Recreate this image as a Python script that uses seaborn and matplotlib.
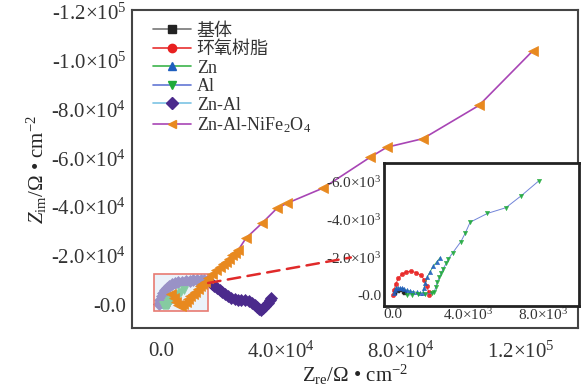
import matplotlib
matplotlib.use("Agg")
import matplotlib.pyplot as plt
import seaborn as sns
from matplotlib.lines import Line2D
from matplotlib.patches import Rectangle, ConnectionPatch

# impedance data, Ohm*cm2 (x = Z_re, y = -Z_im)
substrate_x = [110, 280, 460, 590, 640]
substrate_y = [90, 230, 260, 180, 90]

epoxy_x = [20, 50, 140, 280, 460, 690, 940, 1230, 1490, 1670, 1800, 1890, 1940]
epoxy_y = [0, 260, 580, 880, 1090, 1210, 1260, 1190, 1040, 790, 470, 180, 0]

zn_x = [70, 110, 160, 250, 350, 460, 580, 730, 900, 1080, 1260, 1440, 1580,
        1650, 1720, 1830, 1970, 2150, 2330, 2510]
zn_y = [90, 260, 400, 380, 360, 350, 310, 260, 220, 180, 140, 90, 120,
        350, 650, 960, 1230, 1530, 1750, 1980]

al_x = [730, 1000, 1350, 1710, 2060, 2200, 2280, 2360, 2470, 2560, 2680, 2830,
        2950, 3180, 3610, 3840, 4110, 5030, 6010, 6830, 7750]
al_y = [0, 20, 40, 50, 90, 180, 440, 700, 930, 1140, 1400, 1670,
        1910, 2230, 2810, 3250, 3840, 4300, 4600, 5230, 6000]

znal_x = [-500, -200, 200, 700, 1300, 2000, 2800, 3700, 4700, 5800, 7000, 8200,
          9500, 10800, 12000, 13200, 14300, 15300, 16200, 17000, 17800, 18600,
          19500, 20300, 21200, 22200, 23300, 24500, 25700, 26800, 28000, 29200,
          30300, 31200, 32000, 32700, 33300, 34000, 34700, 35500, 36200, 36800]
znal_y = [500, 2000, 3600, 5000, 6200, 7100, 7800, 8400, 8900, 9300, 9600, 9800,
          10000, 10100, 10200, 10200, 10200, 10000, 9400, 8700, 7900, 7000,
          6000, 5200, 4500, 3700, 3000, 2400, 2000, 1900, 2000, 1700,
          1000, 200, -700, -1500, -1900, -1200, -200, 1000, 2200, 3000]

nife_x = [3500, 4200, 5000, 5800, 6600, 7400, 8200, 9000, 9800, 10600, 11400,
          12200, 13000, 13800, 14600, 15700, 17000, 18300, 19700, 20700, 21700,
          22700, 23700, 24700, 25700, 28300, 33700, 38700, 42000, 54000, 69700,
          75300, 87300, 106000, 124000]
nife_y = [4500, 2800, 1200, 0, -500, 400, 1400, 2400, 3500, 4500, 5500,
          6500, 7600, 8600, 9600, 11000, 12700, 14300, 15500, 16600, 17600,
          19000, 20400, 21400, 22400, 27300, 33500, 39600, 41600, 47800, 60400,
          64500, 68000, 81600, 104000]

labels = ["基体", "环氧树脂", "Zn", "Al", "Zn-Al", "Zn-Al-NiFe$_2$O$_4$"]

main_xticks = [0, 40000, 80000, 120000]
main_xlabels = ["0.0", "4.0×10$^4$", "8.0×10$^4$", "1.2×10$^5$"]
main_yticks = [0, 20000, 40000, 60000, 80000, 100000, 120000]
main_ylabels = ["-0.0", "-2.0×10$^4$", "-4.0×10$^4$", "-6.0×10$^4$",
                "-8.0×10$^4$", "-1.0×10$^5$", "-1.2×10$^5$"]
inset_xticks = [0, 2000, 4000, 6000, 8000]
inset_xlabels = ["0.0", "", "4.0×10$^3$", "", "8.0×10$^3$"]
inset_yticks = [0, 2000, 4000, 6000]
inset_ylabels = ["-0.0", "-2.0×10$^3$", "-4.0×10$^3$", "-6.0×10$^3$"]

sns.set_theme(style="white")
plt.rcParams["font.family"] = ["Liberation Serif", "Noto Sans CJK SC"]
plt.rcParams["mathtext.fontset"] = "custom"
plt.rcParams["mathtext.rm"] = "Liberation Serif"
plt.rcParams["mathtext.it"] = "Liberation Serif:italic"
plt.rcParams["text.color"] = "#333333"

# (line colour, marker, marker colour)
styles = [("#777777", "s", "#222222"),
          ("#e83030", "o", "#e82020"),
          ("#3cb44b", "^", "#1f5fbf"),
          ("#6277d4", "v", "#1faa3a"),
          ("#7cc4e4", "D", "#4b2a8c"),
          ("#a845b5", "<", "#e8891f")]
series = [(substrate_x, substrate_y), (epoxy_x, epoxy_y), (zn_x, zn_y),
          (al_x, al_y), (znal_x, znal_y), (nife_x, nife_y)]

fig = plt.figure(figsize=(5.81, 3.91), dpi=100)
ax = fig.add_axes([0.227, 0.161, 0.768, 0.813])

main_ms = [4, 4, 4, 6, 6.5, 7]
main_z = [2, 2, 2, 4, 3, 5]
for (x, y), (lc, m, mc), ms, z in zip(series, styles, main_ms, main_z):
    sns.lineplot(x=x, y=y, sort=False, estimator=None, ax=ax, color=lc, lw=1.2,
                 marker=m, markersize=ms, markerfacecolor=mc, markeredgecolor=mc,
                 markeredgewidth=0.5, zorder=z)

ax.set_xlim(-9700, 139000)
ax.set_ylim(-9400, 120500)
ax.set_xticks(main_xticks, main_xlabels)
ax.set_yticks(main_yticks, main_ylabels)
ax.tick_params(direction="in", length=5, width=1, colors="#333333", labelsize=15)
ax.tick_params(axis="x", pad=10)
ax.tick_params(axis="y", pad=4)
ax.set_xlabel("Z$_{\\rm re}$/Ω • cm$^{-2}$", fontsize=15, labelpad=0)
ax.set_ylabel("$Z_{\\rm im}$/Ω • cm$^{-2}$", fontsize=15, labelpad=2)
for s in ax.spines.values():
    s.set_color("#444444")
    s.set_linewidth(1.5)

handles = [Line2D([], [], color=lc, marker=m, markerfacecolor=mc,
                  markeredgecolor=mc, markersize=6, lw=1.2)
           for lc, m, mc in styles]
ax.legend(handles, labels, loc="upper left", bbox_to_anchor=(0.02, 1.0),
          frameon=False, fontsize=13, handlelength=2.1, handletextpad=0.3,
          labelspacing=0.08, borderpad=0.2)

# zoom box
box_x0, box_x1, box_y0, box_y1 = -2300, 15700, -2400, 12700
ax.add_patch(Rectangle((box_x0, box_y0), box_x1 - box_x0, box_y1 - box_y0,
                       facecolor=(0.86, 0.91, 0.97, 0.55), edgecolor="#e87a72",
                       lw=1.2, zorder=4.5))

# inset
axin = fig.add_axes([0.661, 0.217, 0.336, 0.366])
axin.set_facecolor("white")
for (x, y), (lc, m, mc) in zip(series[:4], styles[:4]):
    sns.lineplot(x=x, y=y, sort=False, estimator=None, ax=axin, color=lc,
                 lw=0.7, alpha=0.9, marker=m, markersize=3.2, markerfacecolor=mc,
                 markeredgecolor=mc, markeredgewidth=0.3)
axin.set_xlim(-480, 9920)
axin.set_ylim(-580, 6950)
axin.set_xticks(inset_xticks, inset_xlabels)
axin.set_yticks(inset_yticks, inset_ylabels)
axin.tick_params(direction="in", length=4, width=1, colors="#333333", labelsize=11)
axin.tick_params(axis="x", pad=1)
axin.tick_params(axis="y", pad=2)
for s in axin.spines.values():
    s.set_color("#222222")
    s.set_linewidth(2)

con = ConnectionPatch(xyA=(box_x1, 9000), coordsA=ax.transData,
                      xyB=(-0.17, 0.34), coordsB=axin.transAxes,
                      color="#e02a2a", lw=1.8, ls=(0, (5, 3)))
fig.add_artist(con)

fig.savefig("out.png", dpi=100)
